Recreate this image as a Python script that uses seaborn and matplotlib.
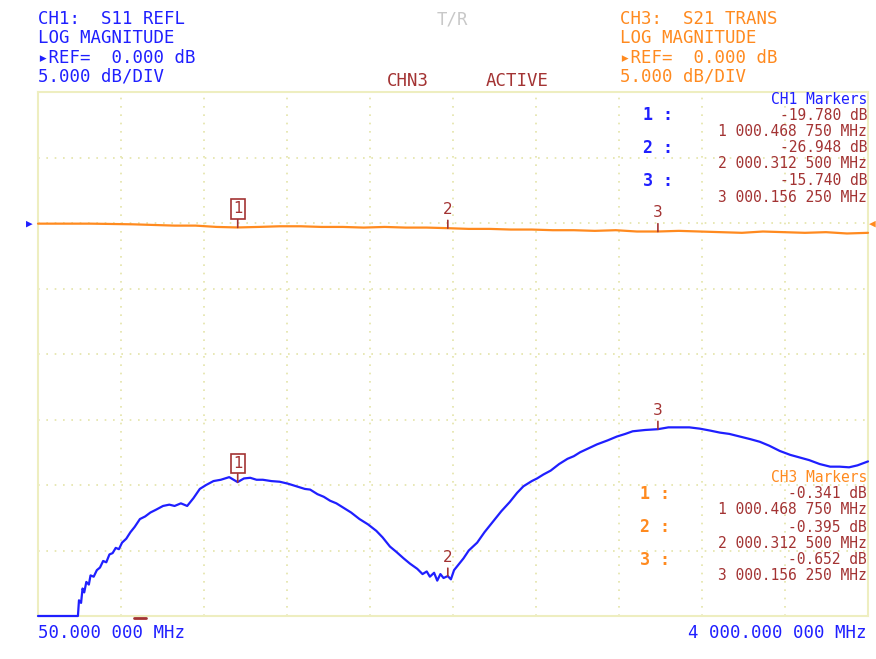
import pandas as pd
import matplotlib.pyplot as plt
import seaborn as sns

# S11 trace (drawn blue): MHz / dB
s11_freq = [50, 240, 245, 255, 262, 270, 280, 292, 300, 315, 330, 345, 360, 375, 390, 405, 420, 435, 450,
            470, 490, 510, 535, 560, 585, 610, 645, 675, 700, 730, 760, 790, 820, 850, 885, 920, 960, 1000,
            1030, 1060, 1090, 1120, 1160, 1200, 1240, 1280, 1320, 1345, 1380, 1410, 1440, 1470, 1500, 1540,
            1580, 1620, 1660, 1690, 1725, 1755, 1790, 1820, 1855, 1880, 1900, 1915, 1935, 1950, 1965, 1980,
            2000, 2015, 2030, 2050, 2075, 2100, 2140, 2175, 2215, 2255, 2295, 2330, 2360, 2400, 2425, 2455,
            2490, 2530, 2570, 2600, 2630, 2670, 2710, 2760, 2805, 2845, 2880, 2940, 3000, 3050, 3105, 3150,
            3200, 3250, 3295, 3340, 3390, 3440, 3485, 3530, 3580, 3630, 3675, 3720, 3770, 3820, 3865, 3910,
            3950, 4000]
s11_db = [-30.0, -30.0, -28.8, -29.0, -27.9, -28.2, -27.4, -27.6, -26.9, -27.0, -26.5, -26.3, -25.8, -25.9,
          -25.3, -25.2, -24.8, -24.9, -24.4, -24.1, -23.6, -23.2, -22.6, -22.4, -22.1, -21.9, -21.6, -21.5,
          -21.6, -21.4, -21.6, -21.0, -20.3, -20.0, -19.7, -19.6, -19.4, -19.78, -19.5, -19.45, -19.6, -19.6,
          -19.7, -19.75, -19.9, -20.1, -20.3, -20.35, -20.7, -20.9, -21.2, -21.4, -21.7, -22.1, -22.6, -23.0,
          -23.5, -24.0, -24.7, -25.1, -25.6, -26.0, -26.4, -26.8, -26.6, -27.0, -26.7, -27.3, -26.8, -27.1,
          -26.95, -27.2, -26.5, -26.1, -25.6, -25.0, -24.4, -23.6, -22.8, -22.0, -21.3, -20.6, -20.1, -19.7,
          -19.5, -19.2, -18.9, -18.4, -18.0, -17.8, -17.5, -17.2, -16.9, -16.6, -16.3, -16.1, -15.9, -15.8,
          -15.74, -15.6, -15.6, -15.6, -15.7, -15.85, -16.0, -16.1, -16.3, -16.5, -16.7, -17.0, -17.4, -17.7,
          -17.9, -18.1, -18.4, -18.6, -18.6, -18.65, -18.5, -18.2]

# S21 trace (drawn orange)
s21_freq = [50, 300, 500, 600, 700, 800, 900, 1000, 1100, 1200, 1300, 1400, 1500, 1600, 1700, 1800, 1900,
            2000, 2100, 2200, 2300, 2400, 2500, 2600, 2700, 2800, 2900, 3000, 3100, 3200, 3300, 3400, 3500,
            3600, 3700, 3800, 3900, 4000]
s21_db = [-0.05, -0.05, -0.1, -0.15, -0.2, -0.2, -0.3, -0.34, -0.3, -0.25, -0.25, -0.3, -0.3, -0.35, -0.3,
          -0.35, -0.35, -0.395, -0.45, -0.45, -0.5, -0.5, -0.55, -0.55, -0.6, -0.55, -0.65, -0.65, -0.6,
          -0.65, -0.7, -0.75, -0.65, -0.7, -0.75, -0.7, -0.8, -0.75]

marker_freq = [1000.46875, 2000.3125, 3000.15625]
ch1_marker_db = [-19.780, -26.948, -15.740]
ch3_marker_db = [-0.341, -0.395, -0.652]
marker_freq_labels = ['1 000.468 750 MHz', '2 000.312 500 MHz', '3 000.156 250 MHz']

BLUE = '#1f1fff'
ORANGE = '#ff8a1f'
DRED = '#a33333'
GRIDC = '#e4e4a8'

sns.set_style('white')
plt.rcParams['font.family'] = ['DejaVu Sans Mono', 'DejaVu Sans']

W, H = 876, 659
fig = plt.figure(figsize=(W / 100, H / 100), dpi=100)
ax = fig.add_axes([38 / W, 1 - 616 / H, 830 / W, 524 / H])

for sp in ax.spines.values():
    sp.set_color('#eeeec0')
    sp.set_linewidth(1.5)

s11 = pd.DataFrame({'freq': s11_freq, 'db': s11_db})
s21 = pd.DataFrame({'freq': s21_freq, 'db': s21_db})
sns.lineplot(data=s21, x='freq', y='db', color=ORANGE, lw=1.6, ax=ax)
sns.lineplot(data=s11, x='freq', y='db', color=BLUE, lw=1.6, ax=ax)
for ln in ax.lines:
    ln.set_clip_on(False)
    ln.set_zorder(5)

ax.set_xlim(50, 4000)
ax.set_ylim(-30, 10)
ax.set_xticks([50 + 395 * i for i in range(11)])
ax.set_yticks([-30 + 5 * i for i in range(9)])
ax.grid(True, color=GRIDC, ls=(0, (1, 4)), lw=1.2)
ax.tick_params(length=0, labelbottom=False, labelleft=False)
ax.set_xlabel('')
ax.set_ylabel('')


def mark(x, y, label, boxed, dy):
    ax.annotate(label, xy=(x, y), xytext=(0, dy), textcoords='offset points',
                ha='center', va='bottom', color=DRED, fontsize=11, family='DejaVu Sans',
                bbox=dict(boxstyle='square,pad=0.15', fc='white', ec=DRED, lw=1.2) if boxed else None,
                arrowprops=dict(arrowstyle='-', color=DRED, lw=1.2, shrinkA=0, shrinkB=0),
                zorder=6)


for i, lab in enumerate(['1', '2', '3']):
    mark(marker_freq[i], ch3_marker_db[i], lab, i == 0, 8)
    mark(marker_freq[i], ch1_marker_db[i], lab, i == 0, 8)


def txt(x, y, s, color, size=12.5, ha='left', weight='normal'):
    fig.text(x / W, 1 - y / H, s, color=color, fontsize=size, ha=ha, va='center', fontweight=weight)


# header
for j, s in enumerate(['CH1:  S11 REFL', 'LOG MAGNITUDE', '\u25b8REF=  0.000 dB', '5.000 dB/DIV']):
    txt(38, 19 + j * 19.3, s, BLUE)
for j, s in enumerate(['CH3:  S21 TRANS', 'LOG MAGNITUDE', '\u25b8REF=  0.000 dB', '5.000 dB/DIV']):
    txt(620, 19 + j * 19.3, s, ORANGE)
txt(437, 19, 'T/R', '#c8c8c8')
txt(387, 81, 'CHN3', DRED)
txt(486, 81, 'ACTIVE', DRED)

# marker tables
txt(867, 99, 'CH1 Markers', BLUE, 10.5, 'right')
for i in range(3):
    y0 = 115 + i * 33
    txt(643, y0, f'{i + 1} :', BLUE, 12, weight='bold')
    txt(867, y0, f'{ch1_marker_db[i]:.3f} dB', DRED, 10.5, 'right')
    txt(867, y0 + 16, marker_freq_labels[i], DRED, 10.5, 'right')

txt(867, 478, 'CH3 Markers', ORANGE, 10.5, 'right')
for i in range(3):
    y0 = 494 + i * 33
    txt(640, y0, f'{i + 1} :', ORANGE, 12, weight='bold')
    txt(867, y0, f'{ch3_marker_db[i]:.3f} dB', DRED, 10.5, 'right')
    txt(867, y0 + 16, marker_freq_labels[i], DRED, 10.5, 'right')

# stimulus labels
txt(38, 633, '50.000 000 MHz', BLUE)
txt(867, 633, '4 000.000 000 MHz', BLUE, ha='right')

# reference position arrows
txt(26, 224, '\u25b6', BLUE, 8)
txt(869, 224, '\u25c0', ORANGE, 8)
fig.add_artist(plt.Line2D([134 / W, 146 / W], [1 - 618 / H] * 2, color=DRED, lw=2))

fig.savefig('out.png', dpi=100)
